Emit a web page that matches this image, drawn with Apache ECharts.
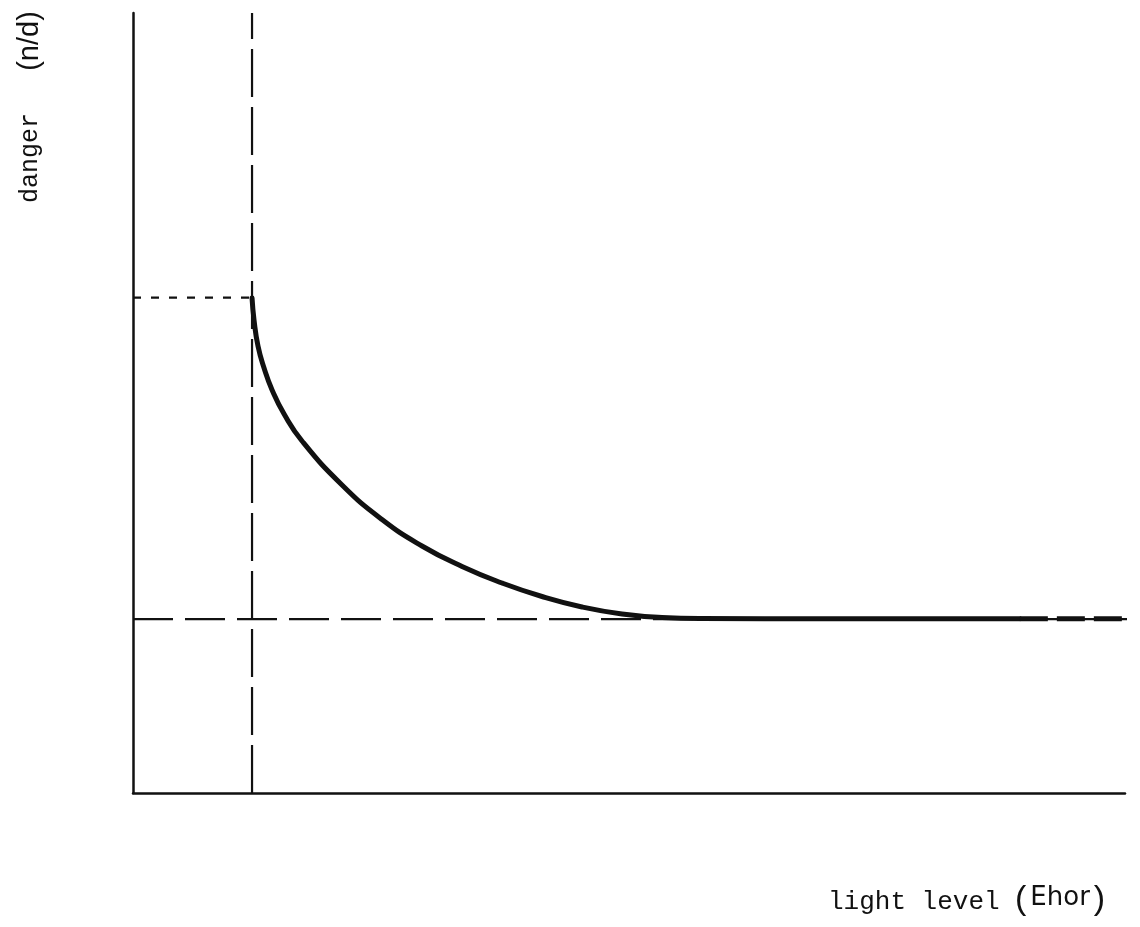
<!DOCTYPE html>
<html>
<head>
<meta charset="utf-8">
<script src="https://cdn.jsdelivr.net/npm/echarts@6/dist/echarts.min.js"></script>
<style>
html,body{margin:0;padding:0;background:#fff;}
#chart{width:1140px;height:927px;}
</style>
</head>
<body>
<div id="chart"></div>
<script>
// ---- data ----
const curveX = [12.00, 12.20, 12.60, 13.21, 14.02, 15.23, 17.04, 21.07, 25.10, 29.13, 33.17, 37.20, 41.23, 45.26, 49.30, 53.33, 57.36, 70, 89.4];
const curveY = [63.46, 60.64, 57.31, 54.49, 51.67, 48.59, 45.13, 39.49, 35.06, 31.67, 29.04, 26.92, 25.19, 23.85, 22.95, 22.50, 22.37, 22.35, 22.35];
const tailX = [89.4, 101];
const thresholdX = 12;          // vertical dashed marker
const startLevel = 63.5;        // dotted level at threshold
const floorLevel = 22.3;        // dashed asymptote
const floorX = [0, 101];
const verticalY = [0, 100];
const xLabel = 'light level';
const xUnit = ['(', 'Ehor', ')'];
const yLabel = 'danger';
const yUnit = '(n/d)';

const ink = '#111';
const chart = echarts.init(document.getElementById('chart'));

const curveData = curveX.map((x, i) => [x, curveY[i]]);
const tailData = tailX.map(x => [x, floorLevel + 0.05]);
const floorData = floorX.map(x => [x, floorLevel]);
const vertData = verticalY.map(y => [thresholdX, y]);
const startData = [[0, startLevel], [thresholdX, startLevel]];

chart.setOption({
  backgroundColor: '#fff',
  animation: false,
  grid: {left: 133, right: 15, top: 13, bottom: 134},
  xAxis: {
    type: 'value', min: 0, max: 100,
    axisLine: {show: true, lineStyle: {color: ink, width: 2.5}},
    axisTick: {show: false}, axisLabel: {show: false}, splitLine: {show: false}
  },
  yAxis: {
    type: 'value', min: 0, max: 100,
    axisLine: {show: true, lineStyle: {color: ink, width: 2.5}},
    axisTick: {show: false}, axisLabel: {show: false}, splitLine: {show: false}
  },
  series: [
    {type: 'line', data: floorData, symbol: 'none', clip: false,
     lineStyle: {color: ink, width: 2.2, type: [40, 12]}},
    {type: 'line', data: vertData, symbol: 'none', clip: false,
     lineStyle: {color: ink, width: 2.2, type: [48, 10]}},
    {type: 'line', data: startData, symbol: 'none', clip: false,
     lineStyle: {color: ink, width: 2.2, type: [8, 10]}},
    {type: 'line', data: curveData, symbol: 'none', smooth: 0.5, clip: false,
     lineStyle: {color: ink, width: 5, cap: 'round', join: 'round'}},
    {type: 'line', data: tailData, symbol: 'none', clip: false,
     lineStyle: {color: ink, width: 5, type: [28, 9]}}
  ],
  graphic: [
    {type: 'text', x: 828, y: 915,
     style: {text: xLabel, align: 'left', verticalAlign: 'bottom',
             fontFamily: 'Liberation Mono', fontSize: 26, fill: ink}},
    {type: 'text', x: 1011, y: 917,
     style: {
       text: '{p|' + xUnit[0] + '}{b|' + xUnit[1] + '}{p|' + xUnit[2] + '}',
       align: 'left', verticalAlign: 'bottom',
       rich: {
         p: {fontFamily: 'Liberation Sans', fontSize: 34, fill: ink, padding: [0, 4, 0, 4]},
         b: {fontFamily: 'DejaVu Sans', fontSize: 26, fill: ink, padding: [0, 0, 3, 0]}
       }
     }},
    {type: 'text', x: 30, y: 158, rotation: Math.PI / 2,
     style: {text: yLabel, align: 'center', verticalAlign: 'middle',
             fontFamily: 'Liberation Mono', fontSize: 25, fill: ink}},
    {type: 'text', x: 30, y: 41, rotation: Math.PI / 2,
     style: {text: yUnit, align: 'center', verticalAlign: 'middle',
             fontFamily: 'Liberation Sans', fontSize: 29, fill: ink}}
  ]
});
</script>
</body>
</html>
